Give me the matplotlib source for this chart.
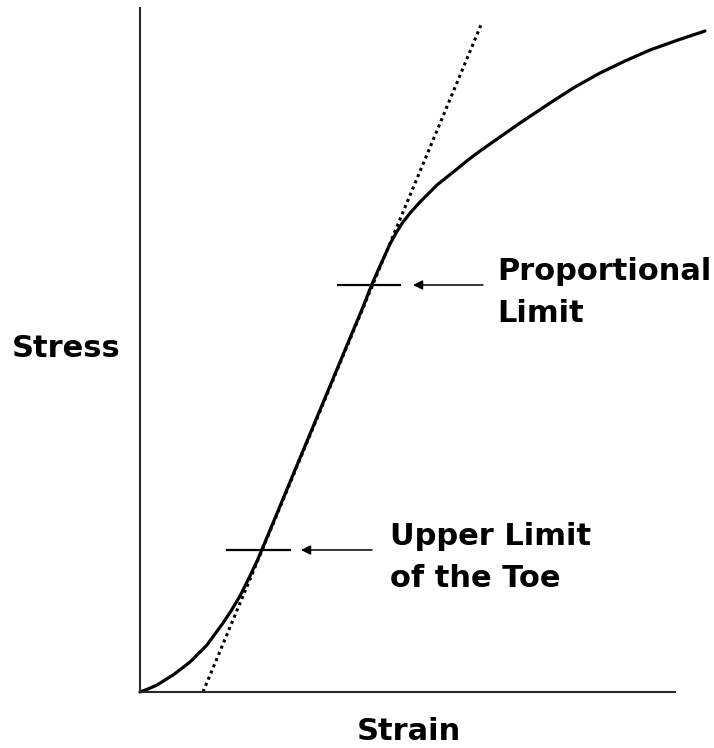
import matplotlib.pyplot as plt

# Curva tensão-deformação (unidades arbitrárias)
strain = [0, 8, 17, 25, 33, 41, 50, 58, 67, 75, 83, 91, 100, 109, 118, 128, 138, 150, 165, 180,
          195, 210, 223, 232, 240, 245, 250, 256, 263, 271, 280, 288, 297, 307, 317, 328, 340,
          360, 380, 410, 435, 460, 485, 510, 538, 565]
stress = [0, 3, 7, 12, 17, 23, 30, 38, 47, 58, 69, 81, 96, 114, 133, 157, 181, 210, 246, 282,
          318, 354, 385, 408, 426, 437, 448, 459, 470, 480, 490, 498, 507, 515, 523, 532, 541,
          555, 569, 589, 605, 619, 631, 642, 652, 661]

# Reta tangente (pontilhada)
tangent_strain = [63, 341]
tangent_stress = [0, 667]

# Marcas horizontais, setas e rótulos
mark_y = [142, 407]
mark_x = [(87, 150), (198, 260)]
arrow_x = [(232, 161), (343, 273)]
label_x = [250, 357]
labels = [["Upper Limit", "of the Toe"], ["Proportional", "Limit"]]

fig = plt.figure(figsize=(7.14, 7.48), dpi=100)
ax = fig.add_axes([140 / 714, 56 / 748, 535 / 714, 684 / 748])

ax.plot(strain, stress, color='black', lw=2.3, clip_on=False,
        solid_capstyle='round', solid_joinstyle='round')
ax.plot(tangent_strain, tangent_stress, color='black', lw=2.2, linestyle=(0, (1, 1.2)), clip_on=False)

for y, (x0, x1), (a0, a1), tx, lab in zip(mark_y, mark_x, arrow_x, label_x, labels):
    ax.plot([x0, x1], [y, y], color='black', lw=1.6, clip_on=False)
    ax.annotate('', xy=(a1, y), xytext=(a0, y),
                arrowprops=dict(arrowstyle='-|>', color='black', lw=1.1, mutation_scale=14,
                                shrinkA=0, shrinkB=0))
    ax.text(tx, y + 5, lab[0], fontsize=22, fontweight='bold', ha='left', va='baseline')
    ax.text(tx, y - 37, lab[1], fontsize=22, fontweight='bold', ha='left', va='baseline')

ax.set_xlim(0, 535)
ax.set_ylim(0, 684)
ax.spines['top'].set_visible(False)
ax.spines['right'].set_visible(False)
for s in ['left', 'bottom']:
    ax.spines[s].set_linewidth(1.5)
    ax.spines[s].set_color('#2a2a2a')
ax.set_xticks([])
ax.set_yticks([])

fig.text(66 / 714, 1 - 357 / 748, 'Stress', fontsize=22, fontweight='bold', ha='center', va='baseline')
fig.text(409 / 714, 1 - 740 / 748, 'Strain', fontsize=22, fontweight='bold', ha='center', va='baseline')

fig.savefig('out.png', dpi=100)
